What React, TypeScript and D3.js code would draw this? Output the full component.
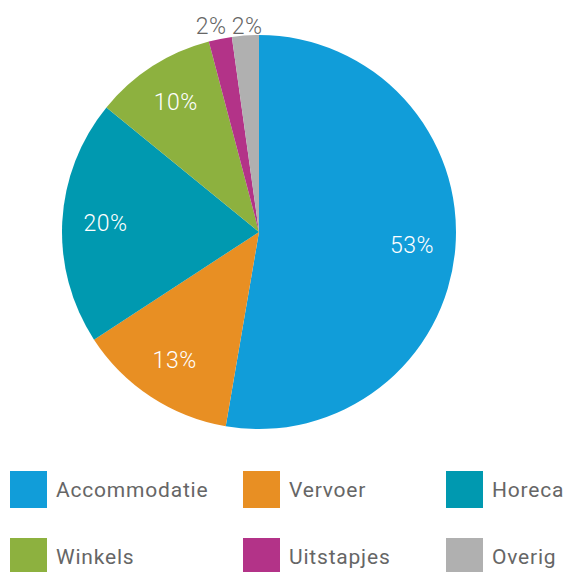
import * as d3 from "d3";
import { useEffect, useRef } from "react";

// slice data, clockwise from 12 o'clock
const categories = ["Accommodatie", "Vervoer", "Horeca", "Winkels", "Uitstapjes", "Overig"];
const shares = [52.7, 13.1, 20.1, 10.0, 1.9, 2.2];
const colors = ["#119dd9", "#e88f23", "#0099b0", "#8db13f", "#b33388", "#b0b0b0"];
// slices too small for an inside label get theirs outside
const outsideLabel = [false, false, false, false, true, true];

const WIDTH = 565;
const HEIGHT = 572;

function App() {
  const ref = useRef<SVGSVGElement>(null);

  useEffect(() => {
    const svg = d3.select(ref.current);
    svg.selectAll("*").remove();

    const cx = 259;
    const cy = 232;
    const radius = 197;

    const data = categories.map((c, i) => ({ name: c, value: shares[i], color: colors[i], outside: outsideLabel[i] }));

    const pie = d3
      .pie<any>()
      .value((d) => d.value)
      .sort(null);
    const arcs = pie(data);

    const arc = d3.arc<any>().innerRadius(0).outerRadius(radius);
    const inLabelArc = d3.arc<any>().innerRadius(radius * 0.78).outerRadius(radius * 0.78);
    // outside labels sit in one row above the pie, x taken from a wider arc
    const outLabelArc = d3.arc<any>().innerRadius(240).outerRadius(240);

    // x of outside labels, pushed apart so they don't touch
    const outX: Record<number, number> = {};
    const outside = arcs.filter((d) => d.data.outside);
    outside.forEach((d) => (outX[d.index] = outLabelArc.centroid(d)[0]));
    const minGap = 36;
    for (let i = 1; i < outside.length; i++) {
      const a = outside[i - 1].index;
      const b = outside[i].index;
      const diff = outX[b] - outX[a];
      if (diff < minGap) {
        const mid = (outX[a] + outX[b]) / 2 + 2;
        outX[a] = mid - minGap / 2;
        outX[b] = mid + minGap / 2;
      }
    }

    const g = svg.append("g").attr("transform", `translate(${cx},${cy})`);

    // Draw the slices
    g.selectAll("path.slice")
      .data(arcs)
      .enter()
      .append("path")
      .attr("class", "slice")
      .attr("d", arc)
      .attr("fill", (d) => d.data.color);

    // Percent labels
    g.selectAll("text.pct")
      .data(arcs)
      .enter()
      .append("text")
      .attr("class", "pct")
      .attr("transform", (d) => {
        if (d.data.outside) {
          return `translate(${outX[d.index]},${-radius - 9})`;
        }
        const [x, y] = inLabelArc.centroid(d);
        return `translate(${x},${y})`;
      })
      .attr("text-anchor", "middle")
      .attr("dominant-baseline", "central")
      .attr("font-family", "Roboto, sans-serif")
      .attr("font-weight", 300)
      .attr("font-size", 23)
      .attr("letter-spacing", 0.5)
      .attr("fill", (d) => (d.data.outside ? "#666" : "#fff"))
      .text((d) => `${Math.round(d.data.value)}%`);

    // Legend, 3 columns x 2 rows
    const colX = d3.scaleOrdinal<number, number>().domain([0, 1, 2]).range([10, 243, 446]);
    const rowY = d3.scaleOrdinal<number, number>().domain([0, 1]).range([471, 538]);
    const box = 37;

    const legend = svg
      .selectAll("g.legend")
      .data(data)
      .enter()
      .append("g")
      .attr("class", "legend")
      .attr("transform", (d, i) => `translate(${colX(i % 3)},${rowY(Math.floor(i / 3))})`);

    legend
      .append("rect")
      .attr("width", box)
      .attr("height", box)
      .attr("fill", (d) => d.color);

    legend
      .append("text")
      .attr("x", 46)
      .attr("y", box / 2)
      .attr("dominant-baseline", "central")
      .attr("font-family", "Roboto, sans-serif")
      .attr("font-size", 21)
      .attr("letter-spacing", 0.8)
      .attr("fill", "#666")
      .text((d) => d.name);
  }, []);

  return (
    <svg
      ref={ref}
      width={WIDTH}
      height={HEIGHT}
      style={{ position: "absolute", left: 0, top: 0, background: "#fff" }}
    />
  );
}

export default App;
